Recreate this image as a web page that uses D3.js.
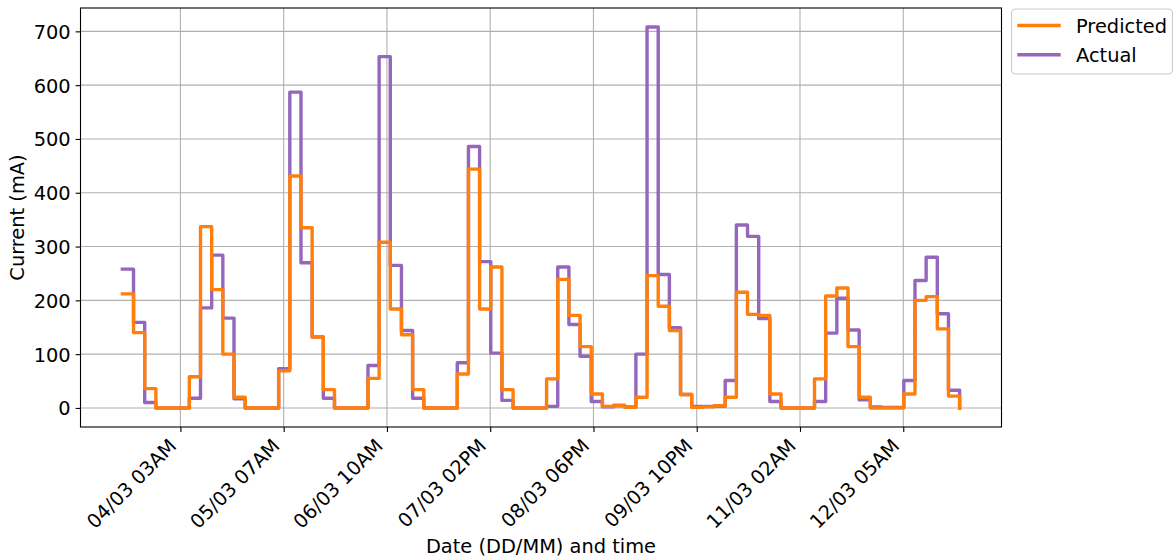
<!DOCTYPE html>
<html>
<head>
<meta charset="utf-8">
<script src="https://cdn.jsdelivr.net/npm/d3@7"></script>
<style>
  html, body { margin: 0; padding: 0; background: #fff; }
  svg { display: block; }
  text { font-family: "DejaVu Sans", sans-serif; fill: #000; }
</style>
</head>
<body>
<svg id="chart" width="1174" height="558"></svg>
<script>
// ---- data (index of 76 consecutive samples) ----
const predicted = [212,140,36,0,0,0,58,337,220,100,
                   20,0,0,0,69,431,335,132,34,0,
                   0,0,55,308,184,136,34,0,0,0,
                   63,444,184,262,34,0,0,0,54,239,
                   172,114,26,3,5,1,20,246,189,144,
                   25,1,2,4,20,215,174,172,26,0,
                   0,0,54,208,223,114,20,0,0,0,
                   26,200,207,147,22,0];
const actual    = [258,159,10,0,0,0,18,186,284,167,
                   17,0,0,0,73,587,270,132,18,0,
                   0,0,79,653,265,144,18,0,0,0,
                   84,486,272,102,14,0,0,0,3,262,
                   155,96,12,2,4,2,100,708,248,149,
                   25,3,3,3,51,340,319,166,12,0,
                   0,0,12,139,204,145,15,2,1,1,
                   51,237,280,175,33,0];
const tickPositions = [5.2, 14.45, 23.7, 32.95, 42.2, 51.45, 60.7, 69.95];
const tickLabels = ["04/03 03AM","05/03 07AM","06/03 10AM","07/03 02PM",
                    "08/03 06PM","09/03 10PM","11/03 02AM","12/03 05AM"];
const yTicks = [0,100,200,300,400,500,600,700];
const seriesNames = ["Predicted","Actual"];
const seriesColors = ["#ff7f0e","#9467bd"];

// ---- layout ----
const FS = 19.4;
const plot = {left: 80.5, right: 1001.5, top: 8, bottom: 427};
const svg = d3.select("#chart");
svg.append("rect").attr("width",1174).attr("height",558).attr("fill","#fff");

const n = predicted.length;
const xs = d3.range(n);
const xPad = (n - 1) * 0.05;
const x = d3.scaleLinear().domain([-xPad, (n - 1) + xPad]).range([plot.left, plot.right]);
const yMax = d3.max(actual.concat(predicted)), yMin = 0;
const yPad = (yMax - yMin) * 0.05;
const y = d3.scaleLinear().domain([yMin - yPad, yMax + yPad]).range([plot.bottom, plot.top]);

// grid
const grid = svg.append("g").attr("stroke","#b0b0b0").attr("stroke-width",1.1);
tickPositions.forEach(t => grid.append("line")
  .attr("x1", x(t)).attr("x2", x(t)).attr("y1", plot.top).attr("y2", plot.bottom));
yTicks.forEach(t => grid.append("line")
  .attr("x1", plot.left).attr("x2", plot.right).attr("y1", y(t)).attr("y2", y(t)));

// lines
const clip = svg.append("clipPath").attr("id","clip").append("rect")
  .attr("x", plot.left).attr("y", plot.top)
  .attr("width", plot.right - plot.left).attr("height", plot.bottom - plot.top);

const lineGen = d3.line().x((d,i) => x(xs[i])).y(d => y(d)).curve(d3.curveStepAfter);
const g = svg.append("g").attr("clip-path","url(#clip)");
[[actual, seriesColors[1]], [predicted, seriesColors[0]]].forEach(([vals, col]) => {
  g.append("path").datum(vals).attr("d", lineGen)
    .attr("fill","none").attr("stroke", col).attr("stroke-width", 3.4)
    .attr("stroke-linejoin","round").attr("stroke-linecap","square");
});

// axes
const xAxis = d3.axisBottom(x).tickValues(tickPositions).tickFormat((d,i) => tickLabels[i])
  .tickSize(4.9).tickPadding(0);
const gx = svg.append("g").attr("transform", `translate(0,${plot.bottom})`).call(xAxis);
gx.select(".domain").remove();
gx.selectAll(".tick line").attr("stroke","#000").attr("stroke-width",1.1);
const c = Math.SQRT1_2, asc = 0.76 * FS, desc = 0.24 * FS;
gx.selectAll(".tick text")
  .attr("font-size", FS).attr("text-anchor","end").attr("dy", null).attr("y", null)
  .attr("transform", `translate(${-desc * c},${9.8 + asc * c}) rotate(-45)`);

const yAxis = d3.axisLeft(y).tickValues(yTicks).tickSize(4.9).tickPadding(4.9);
const gy = svg.append("g").attr("transform", `translate(${plot.left},0)`).call(yAxis);
gy.select(".domain").remove();
gy.selectAll(".tick line").attr("stroke","#000").attr("stroke-width",1.1);
gy.selectAll(".tick text").attr("font-size", FS).attr("dy","0.36em");
svg.selectAll(".tick text").attr("fill","#000").attr("font-family","DejaVu Sans");

// frame
svg.append("rect").attr("x", plot.left).attr("y", plot.top)
  .attr("width", plot.right - plot.left).attr("height", plot.bottom - plot.top)
  .attr("fill","none").attr("stroke","#000").attr("stroke-width",1.1);

// axis labels
svg.append("text").attr("x", (plot.left + plot.right) / 2).attr("y", 553)
  .attr("text-anchor","middle").attr("font-size", FS).text("Date (DD/MM) and time");
svg.append("text").attr("transform", `translate(24,${(plot.top + plot.bottom) / 2}) rotate(-90)`)
  .attr("text-anchor","middle").attr("font-size", FS).text("Current (mA)");

// legend
const lg = svg.append("g");
lg.append("rect").attr("x", 1011.5).attr("y", 9).attr("width", 161).attr("height", 65)
  .attr("rx", 4).attr("fill","#fff").attr("fill-opacity",0.8)
  .attr("stroke","#cccccc").attr("stroke-width",1.1);
seriesNames.forEach((name, i) => {
  const ry = 25.5 + i * 29.3;
  lg.append("line").attr("x1", 1019).attr("x2", 1059).attr("y1", ry).attr("y2", ry)
    .attr("stroke", seriesColors[i]).attr("stroke-width", 3.4).attr("stroke-linecap","square");
  lg.append("text").attr("x", 1076).attr("y", ry + 7).attr("font-size", FS).text(name);
});
</script>
</body>
</html>
